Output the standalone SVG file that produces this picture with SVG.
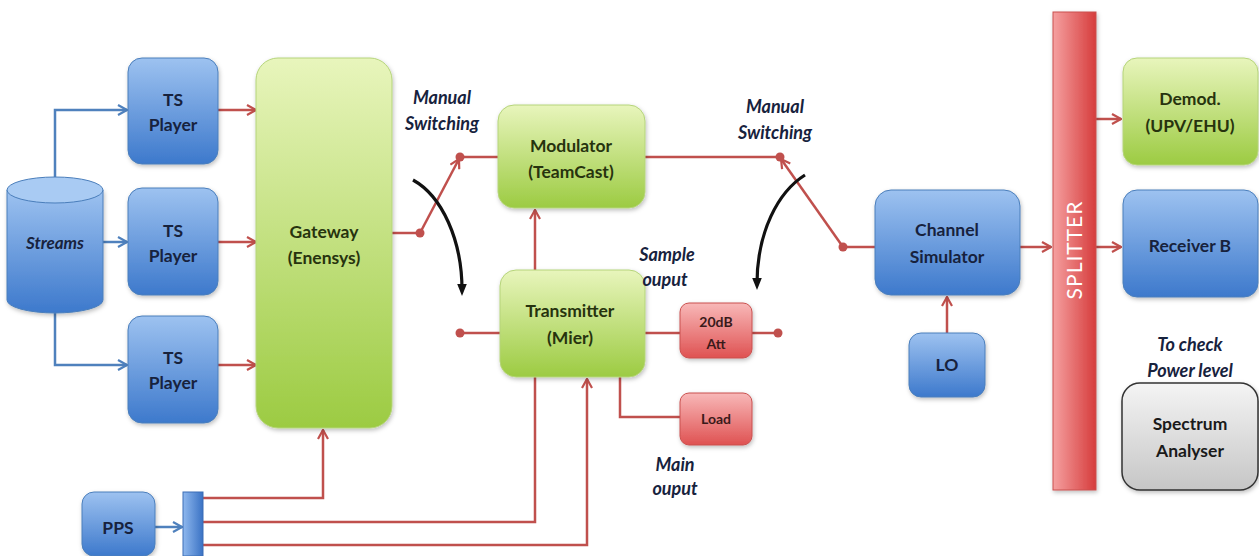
<svg xmlns="http://www.w3.org/2000/svg" width="1259" height="556" viewBox="0 0 1259 556">
  <defs>
    <linearGradient id="gBlue" x1="0" y1="0" x2="0" y2="1">
      <stop offset="0" stop-color="#9dc2f0"/>
      <stop offset="1" stop-color="#3d79cc"/>
    </linearGradient>
    <linearGradient id="gGreen" x1="0" y1="0" x2="0" y2="1">
      <stop offset="0" stop-color="#e8f5bc"/>
      <stop offset="1" stop-color="#9ccb42"/>
    </linearGradient>
    <linearGradient id="gRed" x1="0" y1="0" x2="0" y2="1">
      <stop offset="0" stop-color="#f8b8b8"/>
      <stop offset="1" stop-color="#df5252"/>
    </linearGradient>
    <linearGradient id="gGray" x1="0" y1="0" x2="0" y2="1">
      <stop offset="0" stop-color="#f4f4f4"/>
      <stop offset="1" stop-color="#c6c6c6"/>
    </linearGradient>
    <linearGradient id="gSplit" x1="0" y1="0" x2="1" y2="0">
      <stop offset="0" stop-color="#f5a0a0"/>
      <stop offset="1" stop-color="#d63c3c"/>
    </linearGradient>
    <linearGradient id="gBar" x1="0" y1="0" x2="1" y2="0">
      <stop offset="0" stop-color="#8fb8ee"/>
      <stop offset="1" stop-color="#3a72c4"/>
    </linearGradient>
    <filter id="sh" x="-10%" y="-10%" width="130%" height="130%">
      <feDropShadow dx="1" dy="2" stdDeviation="2" flood-color="#000" flood-opacity="0.25"/>
    </filter>
    <marker id="arR" viewBox="0 0 12 12" refX="11" refY="6" markerWidth="12" markerHeight="12" markerUnits="userSpaceOnUse" orient="auto">
      <path d="M2,1 L11,6 L2,11" fill="none" stroke="#c0504d" stroke-width="2.2"/>
    </marker>
    <marker id="arB" viewBox="0 0 12 12" refX="11" refY="6" markerWidth="12" markerHeight="12" markerUnits="userSpaceOnUse" orient="auto">
      <path d="M2,1 L11,6 L2,11" fill="none" stroke="#4f81bd" stroke-width="2.2"/>
    </marker>
    <marker id="arK" viewBox="0 0 10 10" refX="5" refY="5" markerWidth="12" markerHeight="12" markerUnits="userSpaceOnUse" orient="auto">
      <path d="M0,1 L10,5 L0,9 Z" fill="#111"/>
    </marker>
  </defs>
  <style>
    .blue { fill: url(#gBlue); stroke: #4a7ebb; stroke-width: 1; filter: url(#sh); }
    .green { fill: url(#gGreen); stroke: #b5d47a; stroke-width: 1; filter: url(#sh); }
    .red { fill: url(#gRed); stroke: #c9504e; stroke-width: 1; filter: url(#sh); }
    .gray { fill: url(#gGray); stroke: #333; stroke-width: 1.5; filter: url(#sh); }
    text { font-family: Lato, "Liberation Sans", sans-serif; font-weight: bold; text-anchor: middle; }
    .tb { fill: #17223d; font-size: 17.5px; }
    .tg { fill: #27330e; font-size: 17.5px; }
    .tr { fill: #3a1a1a; font-size: 14px; }
    .lab { fill: #17223d; font-size: 18px; font-style: italic; }
    .wire { fill: none; stroke: #c0504d; stroke-width: 2.5; }
    .bwire { fill: none; stroke: #4f81bd; stroke-width: 2.5; }
    .dot { fill: #c0504d; }
    .sw { fill: none; stroke: #111; stroke-width: 3.2; }
  </style>

  <!-- connectors -->
  <g id="connectors">
    <!-- streams to players -->
    <path class="bwire" d="M55,178 V110 H127" marker-end="url(#arB)"/>
    <path class="bwire" d="M103,242 H127" marker-end="url(#arB)"/>
    <path class="bwire" d="M55,312 V365 H127" marker-end="url(#arB)"/>
    <!-- players to gateway -->
    <path class="wire" d="M218,110 H256" marker-end="url(#arR)"/>
    <path class="wire" d="M218,242 H256" marker-end="url(#arR)"/>
    <path class="wire" d="M218,365 H256" marker-end="url(#arR)"/>
    <!-- gateway output switch -->
    <path class="wire" d="M392,233 H420"/>
    <path class="wire" d="M420,233 L459,159" marker-end="url(#arR)"/>
    <path class="wire" d="M460,157 H498"/>
    <circle class="dot" cx="420" cy="233" r="4.5"/>
    <circle class="dot" cx="460" cy="157" r="4.5"/>
    <path class="wire" d="M460,333 H500"/>
    <circle class="dot" cx="460" cy="333" r="4.5"/>
    <path class="sw" d="M413,180 C442,196 462,240 462,290" marker-end="url(#arK)"/>
    <!-- modulator output switch -->
    <path class="wire" d="M645,157 H780"/>
    <path class="wire" d="M843,247 L781,159" marker-end="url(#arR)"/>
    <circle class="dot" cx="780" cy="157" r="4.5"/>
    <path class="sw" d="M805,175 C778,192 757,232 757,284" marker-end="url(#arK)"/>
    <!-- transmitter to modulator -->
    <path class="wire" d="M535,270 V210" marker-end="url(#arR)"/>
    <!-- transmitter outputs -->
    <path class="wire" d="M620,333 H680"/>
    <path class="wire" d="M752,333 H778"/>
    <circle class="dot" cx="620" cy="333" r="4.5"/>
    <circle class="dot" cx="778" cy="333" r="4.5"/>
    <path class="wire" d="M620,365 V417 H680"/>
    <circle class="dot" cx="620" cy="365" r="4.5"/>
    <!-- channel simulator -->
    <path class="wire" d="M843,247 H875"/>
    <circle class="dot" cx="843" cy="247" r="4.5"/>
    <path class="wire" d="M1020,247 H1051" marker-end="url(#arR)"/>
    <path class="wire" d="M947,333 V297" marker-end="url(#arR)"/>
    <!-- splitter outputs -->
    <path class="wire" d="M1096,119 H1121" marker-end="url(#arR)"/>
    <path class="wire" d="M1096,247 H1121" marker-end="url(#arR)"/>
    <!-- PPS distribution -->
    <path class="bwire" d="M155,527 H182" marker-end="url(#arB)"/>
    <path class="wire" d="M203,498 H323 V430" marker-end="url(#arR)"/>
    <path class="wire" d="M203,522 H535 V377"/>
    <path class="wire" d="M203,545 H587 V379" marker-end="url(#arR)"/>
  </g>

  <!-- streams -->
  <g id="streams">
    <path d="M7,190 V300 A48,13 0 0 0 103,300 V190 Z" class="blue"/>
    <ellipse cx="55" cy="190" rx="48" ry="13" fill="#a9cbf3" stroke="#4a7ebb" stroke-width="1"/>
    <text x="55" y="249" class="lab" style="font-size:17px">Streams</text>
  </g>

  <g id="ts1">
    <rect x="128" y="58" width="90" height="106" rx="14" class="blue"/>
    <text x="173" y="106" class="tb">TS</text>
    <text x="173" y="131" class="tb">Player</text>
  </g>
  <g id="ts2">
    <rect x="128" y="188" width="90" height="107" rx="14" class="blue"/>
    <text x="173" y="237" class="tb">TS</text>
    <text x="173" y="262" class="tb">Player</text>
  </g>
  <g id="ts3">
    <rect x="128" y="316" width="90" height="107" rx="14" class="blue"/>
    <text x="173" y="364" class="tb">TS</text>
    <text x="173" y="389" class="tb">Player</text>
  </g>

  <g id="gateway">
    <rect x="256" y="58" width="136" height="370" rx="22" class="green"/>
    <text x="324" y="238" class="tg">Gateway</text>
    <text x="324" y="264" class="tg">(Enensys)</text>
  </g>

  <g id="modulator">
    <rect x="498" y="105" width="147" height="103" rx="16" class="green"/>
    <text x="571" y="152" class="tg">Modulator</text>
    <text x="571" y="178" class="tg">(TeamCast)</text>
  </g>

  <g id="transmitter">
    <rect x="500" y="270" width="145" height="107" rx="16" class="green"/>
    <text x="570" y="317" class="tg">Transmitter</text>
    <text x="570" y="344" class="tg">(Mier)</text>
  </g>

  <g id="att">
    <rect x="680" y="303" width="72" height="55" rx="9" class="red"/>
    <text x="716" y="327" class="tr">20dB</text>
    <text x="716" y="349" class="tr">Att</text>
  </g>

  <g id="load">
    <rect x="680" y="393" width="72" height="52" rx="9" class="red"/>
    <text x="716" y="424" class="tr">Load</text>
  </g>

  <g id="channel-sim">
    <rect x="875" y="190" width="145" height="105" rx="16" class="blue"/>
    <text x="947" y="236" class="tb">Channel</text>
    <text x="947" y="263" class="tb">Simulator</text>
  </g>

  <g id="lo">
    <rect x="909" y="333" width="76" height="64" rx="12" class="blue"/>
    <text x="947" y="371" class="tb">LO</text>
  </g>

  <g id="splitter">
    <rect x="1053" y="12" width="43" height="478" class="red" style="fill:url(#gSplit);stroke:#c9504e"/>
    <text x="0" y="0" transform="translate(1082,250) rotate(-90)" style="fill:#fff;font-size:21px;font-weight:normal;letter-spacing:1px">SPLITTER</text>
  </g>

  <g id="demod">
    <rect x="1123" y="58" width="135" height="107" rx="14" class="green"/>
    <text x="1190" y="105" class="tg">Demod.</text>
    <text x="1190" y="132" class="tg">(UPV/EHU)</text>
  </g>

  <g id="receiver-b">
    <rect x="1123" y="190" width="135" height="107" rx="14" class="blue"/>
    <text x="1190" y="252" class="tb">Receiver B</text>
  </g>

  <g id="spectrum">
    <rect x="1122" y="383" width="136" height="107" rx="18" class="gray"/>
    <text x="1190" y="430" class="tb" style="fill:#1a1a1a">Spectrum</text>
    <text x="1190" y="457" class="tb" style="fill:#1a1a1a">Analyser</text>
  </g>

  <g id="pps">
    <rect x="82" y="492" width="73" height="64" rx="12" class="blue"/>
    <text x="118" y="534" class="tb">PPS</text>
    <rect x="183" y="492" width="20" height="64" fill="url(#gBar)" stroke="#3a6db5" stroke-width="1"/>
  </g>

  <!-- annotations -->
  <g id="labels">
    <text x="442" y="104" class="lab">Manual</text>
    <text x="442" y="130" class="lab">Switching</text>
    <text x="775" y="113" class="lab">Manual</text>
    <text x="775" y="139" class="lab">Switching</text>
    <text x="667" y="261" class="lab">Sample</text>
    <text x="665" y="286" class="lab">ouput</text>
    <text x="675" y="471" class="lab">Main</text>
    <text x="675" y="495" class="lab">ouput</text>
    <text x="1190" y="351" class="lab">To check</text>
    <text x="1190" y="377" class="lab">Power level</text>
  </g>
</svg>
